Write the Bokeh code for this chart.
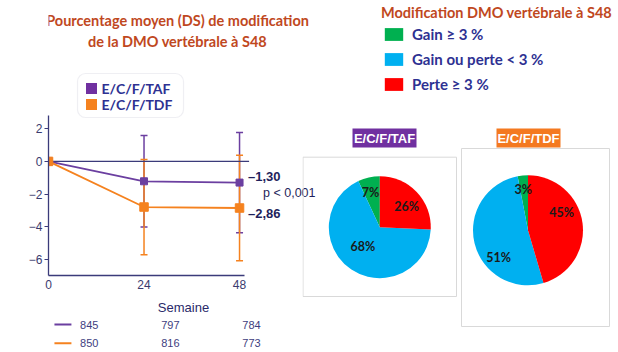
import numpy as np
from bokeh.plotting import figure
from bokeh.models import (ColumnDataSource, Range1d, FixedTicker, Whisker, TeeHead,
                          Legend, LegendItem, BoxAnnotation)
from bokeh.layouts import row, column
from bokeh.embed import file_html
from bokeh.resources import INLINE
from bokeh.core.properties import value

# ---------------- data ----------------
weeks = [0, 24, 48]
taf_mean = [0.0, -1.22, -1.30]
taf_sd = [0.0, 2.81, 3.07]
tdf_mean = [0.0, -2.80, -2.86]
tdf_sd = [0.0, 2.92, 3.24]
taf_n = [845, 797, 784]
tdf_n = [850, 816, 773]
arm_labels = ["E/C/F/TAF", "E/C/F/TDF"]
p_text = "p < 0,001"
x_title = "Semaine"
y_ticks = [-6, -4, -2, 0, 2]
left_title = ["Pourcentage moyen (DS) de modification", "de la DMO vertébrale à S48"]
right_title = "Modification DMO vertébrale à S48"
categories = ["Gain ≥ 3 %", "Gain ou perte < 3 %", "Perte ≥ 3 %"]
taf_pct = [7, 68, 26]
tdf_pct = [3, 51, 45]

# ---------------- styles / layout ----------------
PURPLE = "#6B3FA0"
ORANGE = "#F5821F"
HDR_PURPLE = "#7030A0"
HDR_ORANGE = "#F47920"
AXIS = "#3B3B7A"
NAVY = "#1F1F5C"
TITLE_RED = "#C0481E"
LEG_NAVY = "#2E3192"
PIE_COLORS = ["#00B050", "#00B0F0", "#FF0000"]

W_LEFT = 318
H_TITLE = 55          # page y 0..55
H_LINE = 263          # page y 55..318
H_N = 34              # page y 318..352
BL, BB = 48, 43
FRAME_BOTTOM = H_TITLE + H_LINE - BB   # page y of x axis (275)
PXX, PXY = 3.98, 16.3
Y0 = -7.0
X_END = (W_LEFT - BL) / PXX
Y_END = Y0 + (FRAME_BOTTOM - H_TITLE) / PXY


def lx(px):
    return (px - BL) / PXX


def ly(py):
    return Y0 + (FRAME_BOTTOM - py) / PXY


# ---------------- title strip ----------------
pt = figure(width=W_LEFT, height=H_TITLE, x_range=Range1d(0, W_LEFT), y_range=Range1d(0, H_TITLE),
            output_backend="svg", toolbar_location=None, min_border=0, outline_line_color=None)
pt.axis.visible = False
pt.grid.visible = False
pt.text(x=[152, 152], y=[H_TITLE - 20, H_TITLE - 41], text=left_title, text_font=value("Lato"),
        text_font_style="bold", text_font_size="14.5px", text_color=TITLE_RED,
        text_align="center", text_baseline="middle")

# ---------------- line chart ----------------
p = figure(width=W_LEFT, height=H_LINE, x_range=Range1d(0, X_END), y_range=Range1d(Y0, Y_END),
           output_backend="svg", toolbar_location=None, min_border_left=BL, min_border_right=0,
           min_border_top=0, min_border_bottom=BB, outline_line_color=None,
           background_fill_color="white", border_fill_color="white")
p.xgrid.visible = False
p.ygrid.visible = False

p.xaxis.ticker = FixedTicker(ticks=weeks)
p.xaxis.bounds = (0, 49.2)
p.xaxis.major_tick_out = 0
p.xaxis.major_tick_in = 0
p.xaxis.minor_tick_out = 0
p.xaxis.minor_tick_in = 0
p.xaxis.major_label_standoff = 4
p.xaxis.axis_label = x_title
p.xaxis.axis_label_standoff = 8
p.xaxis.axis_label_text_font = "Liberation Sans"
p.xaxis.axis_label_text_font_style = "normal"
p.xaxis.axis_label_text_font_size = "13px"
p.xaxis.axis_label_text_color = "#2A2A6A"

p.yaxis.ticker = FixedTicker(ticks=y_ticks)
p.yaxis.bounds = (Y0, 2.8)
p.yaxis.major_tick_out = 4
p.yaxis.major_tick_in = 0
p.yaxis.minor_tick_out = 0
p.yaxis.minor_tick_in = 0
p.yaxis.major_label_standoff = 2

for ax in (p.xaxis, p.yaxis):
    ax.axis_line_color = AXIS
    ax.axis_line_width = 1.3
    ax.major_tick_line_color = AXIS
    ax.major_label_text_font = "Liberation Sans"
    ax.major_label_text_font_size = "12px"
    ax.major_label_text_color = "#3A3A6E"

# zero reference line
p.segment(x0=[0], y0=[0], x1=[50.4], y1=[0], line_color=AXIS, line_width=1.2)

# error bars (SD)
for mean, sd, col in ((taf_mean, taf_sd, PURPLE), (tdf_mean, tdf_sd, ORANGE)):
    src = ColumnDataSource(dict(x=weeks[1:],
                                lo=[m - s for m, s in zip(mean[1:], sd[1:])],
                                hi=[m + s for m, s in zip(mean[1:], sd[1:])]))
    w = Whisker(base="x", upper="hi", lower="lo", source=src, dimension="height",
                line_color=col, line_width=1.5,
                upper_head=TeeHead(size=7, line_color=col, line_width=1.5),
                lower_head=TeeHead(size=7, line_color=col, line_width=1.5))
    p.add_layout(w)

p.line(weeks, taf_mean, line_color=PURPLE, line_width=1.8)
p.line(weeks, tdf_mean, line_color=ORANGE, line_width=1.8)
p.scatter(weeks, taf_mean, marker="square", size=7, fill_color=PURPLE, line_color=PURPLE)
p.scatter(weeks, tdf_mean, marker="square", size=8.5, fill_color=ORANGE, line_color=ORANGE)

# end values
end_vals = [taf_mean[-1], tdf_mean[-1]]
end_labels = ["–" + f"{abs(v):.2f}".replace(".", ",") for v in end_vals]
p.text(x=[weeks[-1]] * 2, y=end_vals, text=end_labels, x_offset=8.5, y_offset=[-6, 5],
       text_font=value("Liberation Sans"), text_font_style="bold", text_font_size="13px",
       text_color=NAVY, text_align="left", text_baseline="middle")
p.text(x=[weeks[-1]], y=[(end_vals[0] + end_vals[1]) / 2], text=[p_text], x_offset=23.5, y_offset=-2,
       text_font=value("Liberation Sans"), text_font_size="12.5px",
       text_color=NAVY, text_align="left", text_baseline="middle")

# series key (rounded box with swatches)
p.add_layout(BoxAnnotation(left=lx(77), right=lx(183), top=ly(73), bottom=ly(117),
                           fill_color="white", fill_alpha=1.0, line_color="#C9C9D6",
                           line_width=1.2, border_radius=8, level="underlay"))
key_y = [ly(88), ly(104)]
p.scatter(x=[lx(91)] * 2, y=key_y, marker="square", size=11,
          fill_color=[HDR_PURPLE, ORANGE], line_color=None)
p.text(x=[lx(101)] * 2, y=key_y, text=arm_labels, text_font=value("Lato"), text_font_style="bold",
       text_font_size="14px", text_color=LEG_NAVY, text_align="left", text_baseline="middle")

# ---------------- number-at-risk strip ----------------
pn = figure(width=W_LEFT, height=H_N, x_range=Range1d(-BL / PXX, X_END), y_range=Range1d(0, H_N),
            output_backend="svg", toolbar_location=None, min_border=0, outline_line_color=None)
pn.axis.visible = False
pn.grid.visible = False
row_y = [28, 9.3]
for n_list, col, yy in ((taf_n, PURPLE, row_y[0]), (tdf_n, ORANGE, row_y[1])):
    pn.text(x=weeks, y=[yy] * len(weeks), text=[str(v) for v in n_list],
            text_font=value("Liberation Sans"), text_font_size="11px", text_color="#3E3E80",
            text_align="center", text_baseline="middle")
    pn.segment(x0=[lx(7)], y0=[yy], x1=[lx(27)], y1=[yy], line_color=col, line_width=2)

# ---------------- pies ----------------
H = 352
pr = figure(width=316, height=H, x_range=Range1d(302, 618), y_range=Range1d(0, H),
            output_backend="svg", toolbar_location=None, min_border=0, outline_line_color=None,
            background_fill_color=None, border_fill_color=None, margin=(0, 0, 0, -16))
pr.axis.visible = False
pr.grid.visible = False

# boxes
pr.quad(left=[302.5, 461], right=[456, 609], top=[H - 156.7, H - 148], bottom=[H - 296, H - 326],
        fill_color=None, line_color="#D9D9D9", line_width=1)
# headers
pr.rect(x=[384, 528], y=[H - 137.5] * 2, width=64, height=19,
        fill_color=[HDR_PURPLE, HDR_ORANGE], line_color=None)
pr.text(x=[384, 528], y=[H - 137.5] * 2, text=arm_labels, text_font=value("Liberation Sans"),
        text_font_style="bold", text_font_size="13px", text_color="white",
        text_align="center", text_baseline="middle")

pie_centers = [(379.3, H - 226.7), (527.5, H - 229.8)]
pie_radii = [51, 55]
label_offsets = [[(-9.3, 35), (-17, -19), (26.7, 21)],
                 [(-4.8, 40.8), (-29.5, -26.9), (33.5, 18.1)]]
wedge_renderers = []
for k, pct in enumerate((taf_pct, tdf_pct)):
    frac = np.array(pct, dtype=float) / sum(pct)
    cum = np.concatenate([[0], np.cumsum(frac)])
    start = np.pi / 2 + 2 * np.pi * cum[:-1]
    end = np.pi / 2 + 2 * np.pi * cum[1:]
    cx, cy = pie_centers[k]
    src = ColumnDataSource(dict(x=[cx] * 3, y=[cy] * 3, r=[pie_radii[k]] * 3,
                                start=start, end=end, color=PIE_COLORS, cat=categories))
    wr = pr.wedge(x="x", y="y", radius="r", start_angle="start", end_angle="end",
                  fill_color="color", line_color=None, source=src)
    wedge_renderers.append(wr)
    pr.text(x=[cx + o[0] for o in label_offsets[k]], y=[cy + o[1] for o in label_offsets[k]],
            text=[f"{v}%" for v in pct], text_font=value("Lato"), text_font_style="bold",
            text_font_size="12.5px", text_color="#1A1A1A", text_align="center",
            text_baseline="middle")

pr.text(x=[496], y=[H - 12], text=[right_title], text_font=value("Lato"), text_font_style="bold",
        text_font_size="14.5px", text_color=TITLE_RED, text_align="center", text_baseline="middle")

leg_r = Legend(items=[LegendItem(label=c, renderers=[wedge_renderers[0]], index=i)
                      for i, c in enumerate(categories)],
               location=(382 - 302, H - 92.7), orientation="vertical",
               glyph_width=23, glyph_height=16, label_height=16, spacing=7, padding=0,
               label_standoff=7, margin=0,
               label_text_font="Lato", label_text_font_style="bold", label_text_font_size="15px",
               label_text_color=LEG_NAVY, border_line_color=None, background_fill_alpha=0)
pr.add_layout(leg_r)

layout = row(column(pt, p, pn), pr)
open("out.html", "w").write(file_html(layout, INLINE))
